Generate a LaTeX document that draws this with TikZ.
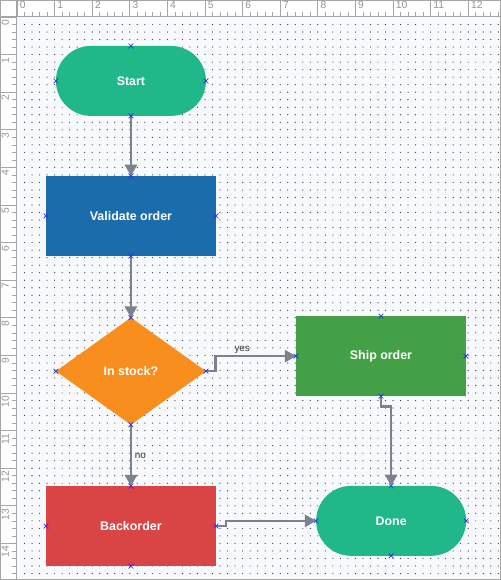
\documentclass[tikz,border=0pt]{standalone}
\usepackage{fontspec}
\setmainfont{Liberation Sans}
\usetikzlibrary{shapes.geometric,arrows.meta}

\definecolor{startgreen}{RGB}{32,184,134}
\definecolor{validblue}{RGB}{26,108,170}
\definecolor{stockorange}{RGB}{247,142,30}
\definecolor{shipgreen}{RGB}{67,160,71}
\definecolor{backred}{RGB}{217,69,69}
\definecolor{flowgray}{RGB}{122,130,142}
\definecolor{canvasbg}{RGB}{248,249,252}
\definecolor{rulergray}{RGB}{165,165,165}
\definecolor{portblue}{RGB}{40,40,230}

\begin{document}
\begin{tikzpicture}[x=1cm,y=-1cm,
  shapetext/.style={text=white,font=\fontsize{9.4}{11}\selectfont\bfseries,inner sep=0pt,outer sep=0pt},
  terminal/.style={shapetext,rectangle,rounded corners=0.93cm,minimum width=3.99cm,minimum height=1.86cm},
  process/.style={shapetext,rectangle,minimum width=4.52cm,minimum height=2.13cm},
  decision/.style={shapetext,diamond,minimum width=3.99cm,minimum height=2.85cm},
  flow/.style={draw=flowgray,line width=1.9pt,-{Triangle[length=8.5pt,width=9.2pt]}},
  lbl/.style={font=\fontsize{7.5}{9}\selectfont,text=black!80,inner sep=1pt},
  rulerbox/.style={fill=white,draw=rulergray,line width=0.5pt},
  rulertick/.style={draw=rulergray,line width=0.5pt},
  rulernum/.style={font=\fontsize{7.8}{9}\selectfont,text=rulergray!90!black,inner sep=0.5pt},
  griddot/.style={fill=black!80},
  portmark/.style={draw=portblue,line width=0.5pt}]

  \useasboundingbox (-0.452,-0.452) rectangle (12.846,14.973);
  \fill[canvasbg] (-0.452,-0.452) rectangle (12.846,14.973);

  % Dotted grid, one dot every 0.2 units
  \foreach \i in {1,...,64} {
    \foreach \j in {1,...,74} {
      \fill[griddot] (\i/5,\j/5) circle (0.45pt);
    }
  }

  % Rulers along the top and the left side
  \draw[rulerbox] (-0.452,-0.452) rectangle (12.846,-0.027);
  \draw[rulerbox] (-0.452,-0.452) rectangle (-0.027,14.973);
  \draw[rulerbox] (-0.452,-0.452) rectangle (-0.027,-0.027);
  \foreach \i in {0,...,64} {
    \pgfmathtruncatemacro\major{mod(\i,5)==0}
    \ifnum\major=1
      \draw[rulertick] (\i/5,-0.452) -- (\i/5,-0.027);
    \else
      \draw[rulertick] (\i/5,-0.14) -- (\i/5,-0.027);
    \fi
  }
  \foreach \j in {0,...,74} {
    \pgfmathtruncatemacro\major{mod(\j,5)==0}
    \ifnum\major=1
      \draw[rulertick] (-0.452,\j/5) -- (-0.027,\j/5);
    \else
      \draw[rulertick] (-0.14,\j/5) -- (-0.027,\j/5);
    \fi
  }
  \foreach \n in {0,...,12} {
    \node[rulernum, anchor=north west] at (\n+0.05,-0.43) {\n};
  }
  \foreach \n in {0,...,14} {
    \node[rulernum, rotate=90, anchor=north east] at (-0.43,\n+0.05) {\n};
  }

  % Flowchart shapes
  \node[terminal, fill=startgreen] (start) at (3.03,1.70) {Start};
  \node[process, fill=validblue] (validate) at (3.03,5.29) {Validate order};
  \node[decision, fill=stockorange] (stock) at (3.03,9.42) {In stock?};
  \node[process, fill=shipgreen] (ship) at (9.68,9.02) {Ship order};
  \node[process, fill=backred] (back) at (3.03,13.54) {Backorder};
  \node[terminal, fill=startgreen] (done) at (9.95,13.40) {Done};

  % Connectors
  \draw[flow] (start.south) -- (validate.north);
  \draw[flow] (validate.south) -- (stock.north);
  \draw[flow] (stock.east) -- ++(0.26,0) |- node[lbl, pos=0.665, above] {yes} (ship.west);
  \draw[flow] (stock.south) -- node[lbl, right=1pt] {no} (back.north);
  \draw[flow] (ship.south) -- ++(0,0.27) -| (done.north);
  \draw[flow] (back.east) -- ++(0.27,0) |- (done.west);

  % Connection points
  \foreach \n in {start,validate,stock,ship,back,done} {
    \foreach \a in {north,south,east,west} {
      \draw[portmark] (\n.\a) +(-1.8pt,-1.8pt) -- +(1.8pt,1.8pt) +(-1.8pt,1.8pt) -- +(1.8pt,-1.8pt);
    }
  }

  \draw[rulergray, line width=0.8pt] (-0.452,-0.452) rectangle (12.846,14.973);
\end{tikzpicture}
\end{document}
